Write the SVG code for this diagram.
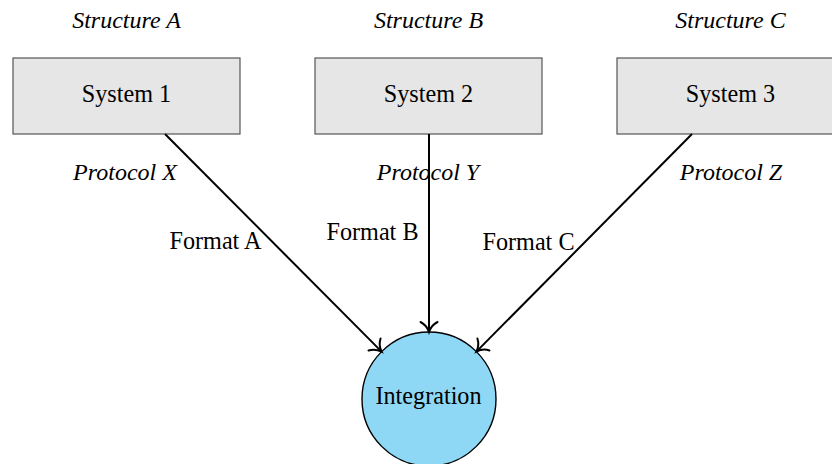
<svg xmlns="http://www.w3.org/2000/svg" width="832" height="464" viewBox="0 0 832 464">
  <defs>
    <marker id="to" markerUnits="userSpaceOnUse" markerWidth="24" markerHeight="24" viewBox="-12 -12 24 24" refX="0" refY="0" orient="auto" overflow="visible">
      <path d="M -10 -8.5 C -7.5 -3.5, -3 -1, 0 0 C -3 1, -7.5 3.5, -10 8.5" fill="none" stroke="#000" stroke-width="2" stroke-linecap="round"/>
    </marker>
    <style>
      .box { fill: #e6e6e6; stroke: #555; stroke-width: 1.2; }
      .hub { fill: #8fd8f5; stroke: #000; stroke-width: 1.4; }
      text { font-family: 'Liberation Serif', 'Times New Roman', serif; font-size: 24.2px; fill: #000; text-anchor: middle; }
      .it { font-style: italic; font-size: 24px; }
      .edge { stroke: #000; stroke-width: 2; fill: none; marker-end: url(#to); }
    </style>
  </defs>
  <rect width="832" height="464" fill="#fff"/>

  <!-- section headings -->
  <text class="it" x="126.5" y="28">Structure A</text>
  <text class="it" x="428.5" y="28">Structure B</text>
  <text class="it" x="730.5" y="28">Structure C</text>

  <g id="system1">
    <rect class="box" x="13" y="58" width="227" height="76"/>
    <text x="126.5" y="102">System 1</text>
  </g>
  <g id="system2">
    <rect class="box" x="315" y="58" width="227" height="76"/>
    <text x="428.5" y="102">System 2</text>
  </g>
  <g id="system3">
    <rect class="box" x="617" y="58" width="227" height="76"/>
    <text x="730.5" y="102">System 3</text>
  </g>

  <g id="integration">
    <circle class="hub" cx="429" cy="399" r="67"/>
    <text x="428.5" y="404">Integration</text>
  </g>

  <g id="connectors">
    <line class="edge" x1="165" y1="134" x2="381.6" y2="351.6"/>
    <line class="edge" x1="429" y1="134" x2="429" y2="332"/>
    <line class="edge" x1="692" y1="134" x2="476.4" y2="351.6"/>
    <text class="it" x="125" y="180">Protocol X</text>
    <text class="it" x="428" y="180">Protocol Y</text>
    <text class="it" x="731" y="180">Protocol Z</text>
    <text x="215.5" y="249">Format A</text>
    <text x="372.5" y="240">Format B</text>
    <text x="528.5" y="250">Format C</text>
  </g>
</svg>
